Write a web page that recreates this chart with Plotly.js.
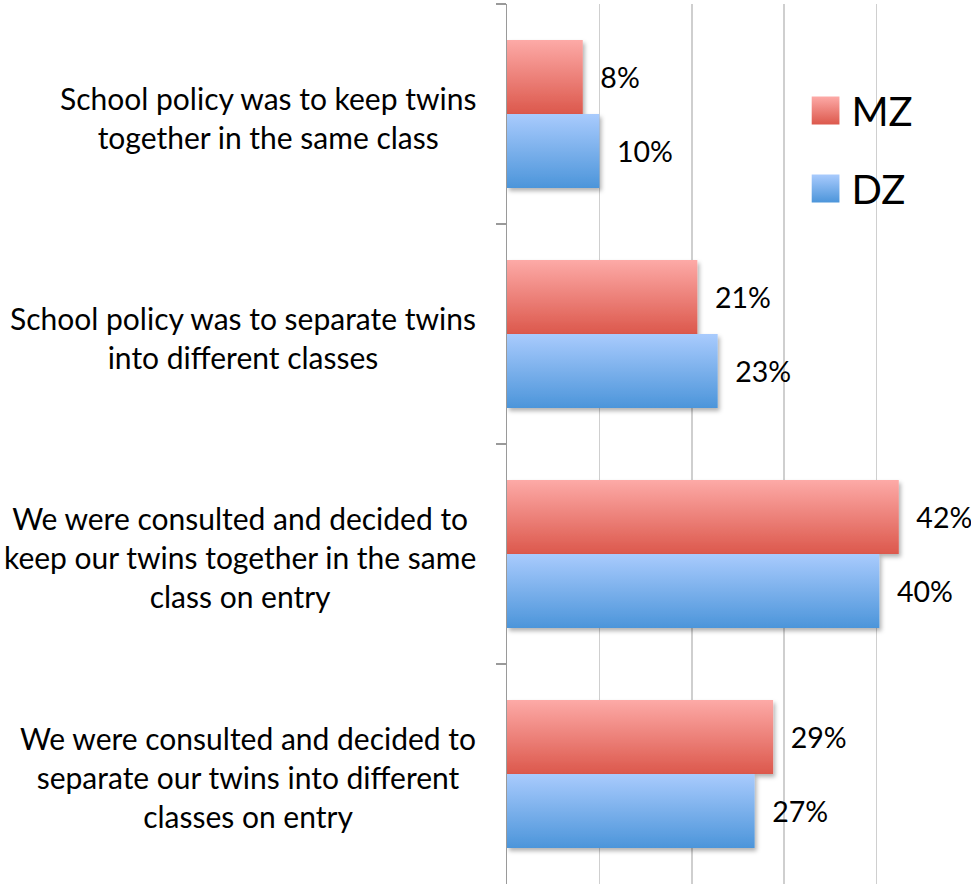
<!DOCTYPE html>
<html>
<head>
<meta charset="utf-8">
<script src="https://cdn.plot.ly/plotly-3.0.1.min.js"></script>
<style>
  html, body { margin: 0; padding: 0; background: #fff; }
  #chart { width: 971px; height: 885px; }
</style>
</head>
<body>
<div id="chart"></div>
<script>
// ---- data ----
const categories = [
  "School policy was to keep twins<br>together in the same class",
  "School policy was to separate twins<br>into different classes",
  "We were consulted and decided to<br>keep our twins together in the same<br>class on entry",
  "We were consulted and decided to<br>separate our twins into different<br>classes on entry"
];
const seriesNames = ["MZ", "DZ"];
const mzValues = [8.2, 20.6, 42.4, 28.8];
const dzValues = [10.0, 22.8, 40.3, 26.8];
const mzLabels = ["8%", "21%", "42%", "29%"];
const dzLabels = ["10%", "23%", "40%", "27%"];

const FONT = "Lato, 'Open Sans', sans-serif";
const pad = "\u00a0\u00a0";

function barTrace(name, values, labels, color) {
  return {
    type: "bar",
    orientation: "h",
    name: name,
    legendgroup: name,
    x: values,
    y: categories,
    text: labels.map(t => pad + t),
    textposition: "outside",
    cliponaxis: false,
    constraintext: "none",
    textfont: { family: FONT, size: 28.5, color: "#000" },
    marker: { color: color, line: { width: 0 } },
    hoverinfo: "skip"
  };
}

const traces = [
  barTrace(seriesNames[0], mzValues, mzLabels, "#ec7b74"),
  barTrace(seriesNames[1], dzValues, dzLabels, "#7fb1ee")
];

const annotations = categories.map(c => ({
  xref: "paper", yref: "y",
  x: -0.062, y: c,
  xanchor: "right", yanchor: "middle",
  yshift: -3,
  align: "center",
  showarrow: false,
  text: c,
  font: { family: FONT, size: 30, color: "#000" }
}));

const layout = {
  width: 971, height: 885,
  margin: { l: 507, r: 2, t: 4, b: 1, pad: 0 },
  paper_bgcolor: "#fff", plot_bgcolor: "#fff",
  barmode: "group",
  bargap: 0.327,
  bargroupgap: 0,
  showlegend: true,
  legend: {
    x: 0.659, y: 0.916, xanchor: "left", yanchor: "top",
    traceorder: "grouped",
    tracegroupgap: 23,
    font: { family: FONT, size: 40, color: "#000" },
    bgcolor: "rgba(0,0,0,0)"
  },
  xaxis: {
    range: [0, 50],
    dtick: 10, tick0: 0,
    showgrid: true, gridcolor: "#cfcfcf", gridwidth: 1.5,
    zeroline: false, showline: false,
    showticklabels: false, ticks: ""
  },
  yaxis: {
    type: "category",
    autorange: "reversed",
    showline: true, linecolor: "#9a9a9a", linewidth: 1.5,
    ticks: "outside", ticklen: 10, tickwidth: 1.5, tickcolor: "#9a9a9a",
    tickson: "boundaries",
    showticklabels: false, showgrid: false, zeroline: false
  },
  annotations: annotations
};

Plotly.newPlot("chart", traces, layout, { staticPlot: true, displayModeBar: false }).then(gd => {
  const svg = gd.querySelector(".main-svg");
  const NS = "http://www.w3.org/2000/svg";
  let defs = svg.querySelector("defs");
  if (!defs) { defs = document.createElementNS(NS, "defs"); svg.insertBefore(defs, svg.firstChild); }
  function grad(id, top, bottom) {
    const g = document.createElementNS(NS, "linearGradient");
    g.setAttribute("id", id);
    g.setAttribute("x1", "0"); g.setAttribute("y1", "0");
    g.setAttribute("x2", "0"); g.setAttribute("y2", "1");
    [[0, top], [1, bottom]].forEach(([o, c]) => {
      const s = document.createElementNS(NS, "stop");
      s.setAttribute("offset", o); s.setAttribute("stop-color", c);
      g.appendChild(s);
    });
    defs.appendChild(g);
  }
  grad("gMZ", "#fdaaa7", "#dc584c");
  grad("gDZ", "#a9cbfd", "#4c95da");
  const f = document.createElementNS(NS, "filter");
  f.setAttribute("id", "shadow");
  f.setAttribute("x", "-10%"); f.setAttribute("y", "-10%");
  f.setAttribute("width", "130%"); f.setAttribute("height", "130%");
  const ds = document.createElementNS(NS, "feDropShadow");
  ds.setAttribute("dx", "2"); ds.setAttribute("dy", "3");
  ds.setAttribute("stdDeviation", "2"); ds.setAttribute("flood-color", "#000");
  ds.setAttribute("flood-opacity", "0.3");
  f.appendChild(ds); defs.appendChild(f);

  const ids = ["gMZ", "gDZ"];
  gd.querySelectorAll(".barlayer .trace").forEach((t, i) => {
    t.querySelectorAll(".point path").forEach(p => {
      p.style.fill = "url(#" + ids[i] + ")";
      p.style.filter = "url(#shadow)";
    });
  });
  gd.querySelectorAll(".legend .traces").forEach((t, i) => {
    const p = t.querySelector(".legendpoints path");
    if (p) {
      p.setAttribute("d", "M8,14H-20V-14H8Z");
      p.style.fill = "url(#" + ids[i] + ")";
    }
  });
});
</script>
</body>
</html>
